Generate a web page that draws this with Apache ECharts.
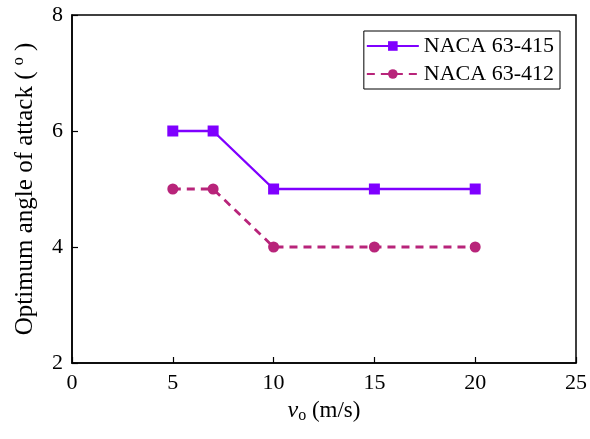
<!DOCTYPE html>
<html><head><meta charset="utf-8">
<script src="https://cdn.jsdelivr.net/npm/echarts@6/dist/echarts.min.js"></script>
<style>html,body{margin:0;padding:0;background:#fff}#c{width:590px;height:439px}</style>
</head><body><div id="c"></div>
<script>
const speeds = [5, 7, 10, 15, 20];
const naca415 = [6, 6, 5, 5, 5];
const naca412 = [5, 5, 4, 4, 4];
const xTicks = [0, 25, 5];
const yTicks = [2, 8, 2];
const FONT = '"Liberation Serif", "Times New Roman", serif';

const chart = echarts.init(document.getElementById('c'));
chart.setOption({
  animation: false,
  backgroundColor: '#fff',
  textStyle: {fontFamily: FONT},
  grid: {left: 72, right: 13, top: 15, bottom: 76, show: true, borderColor: '#000', borderWidth: 1.5, backgroundColor: 'transparent'},
  legend: {
    right: 30, top: 31, orient: 'vertical', itemWidth: 52, itemHeight: 12, itemGap: 6,
    borderColor: '#000', borderWidth: 1, padding: [4, 6, 4, 2],
    textStyle: {fontFamily: FONT, fontSize: 22, color: '#000'},
    data: ['NACA 63-415', 'NACA 63-412']
  },
  xAxis: {
    type: 'value', min: xTicks[0], max: xTicks[1], interval: xTicks[2],
    axisLine: {lineStyle: {color: '#000', width: 1.5}},
    axisTick: {inside: true, length: 6, lineStyle: {color: '#000', width: 1.2}},
    axisLabel: {fontFamily: FONT, fontSize: 22, color: '#000', margin: 9},
    splitLine: {show: false},
    name: '{v|v}{s|o}{t| (m/s)}', nameLocation: 'middle', nameGap: 24,
    nameTextStyle: {
      rich: {
        v: {fontFamily: FONT, fontSize: 24, fontStyle: 'italic', color: '#000'},
        s: {fontFamily: FONT, fontSize: 16, color: '#000', padding: [10, 0, 0, 0]},
        t: {fontFamily: FONT, fontSize: 23, color: '#000'}
      }
    }
  },
  yAxis: {
    type: 'value', min: yTicks[0], max: yTicks[1], interval: yTicks[2],
    axisLine: {lineStyle: {color: '#000', width: 1.5}},
    axisTick: {inside: true, length: 6, lineStyle: {color: '#000', width: 1.2}},
    axisLabel: {fontFamily: FONT, fontSize: 22, color: '#000', margin: 9},
    splitLine: {show: false},
    name: '{t|Optimum angle of attack ( }{s|o}{t| )}', nameLocation: 'middle', nameGap: 33,
    nameTextStyle: {
      rich: {
        t: {fontFamily: FONT, fontSize: 25, color: '#000'},
        s: {fontFamily: FONT, fontSize: 16, color: '#000', padding: [0, 0, 12, 0]}
      }
    }
  },
  series: [
    {
      name: 'NACA 63-415', type: 'line',
      data: speeds.map((x, i) => [x, naca415[i]]),
      symbol: 'rect', symbolSize: 11,
      itemStyle: {color: '#7F00FF'},
      lineStyle: {color: '#7F00FF', width: 2.4}
    },
    {
      name: 'NACA 63-412', type: 'line',
      data: speeds.map((x, i) => [x, naca412[i]]),
      symbol: 'circle', symbolSize: 11,
      itemStyle: {color: '#B8247A'},
      lineStyle: {color: '#B8247A', width: 2.8, type: [8, 6]}
    }
  ]
});
</script></body></html>
